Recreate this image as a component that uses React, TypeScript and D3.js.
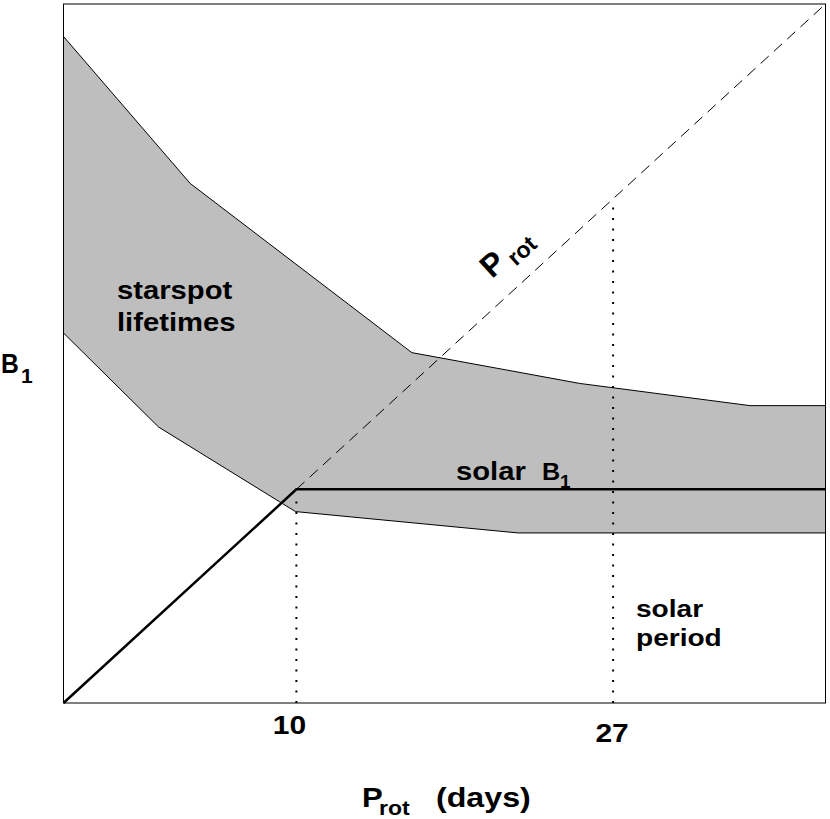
import React from "react";
import * as d3 from "d3";

// Schematic axes (days); x and y share the same units so that B1 = Prot is the diagonal
const xDomain: [number, number] = [-2.5, 38.4];
const yDomain: [number, number] = [-2.5, 38.4];

// Starspot lifetime band
const upperX = [-2.5, 4.3, 16.2, 25.2, 34.35, 38.4];
const upperY = [36.5, 27.9, 18.0, 16.2, 14.9, 14.9];
const lowerX = [-2.5, 2.6, 9.95, 21.9, 38.4];
const lowerY = [19.15, 13.65, 8.7, 7.45, 7.45];

// Solar B1 level and period marks
const solarB1 = 10;
const tickValues = [10, 27];
const tickLabels = ["10", "27"];

const W = 830;
const H = 819;
const FONT = "'Liberation Sans', Arial, Helvetica, sans-serif";

export default function App() {
  const x = d3.scaleLinear().domain(xDomain).range([63.5, 825.5]);
  const y = d3.scaleLinear().domain(yDomain).range([703, 4]);

  const upper = upperX.map((v, i) => [v, upperY[i]] as [number, number]);
  const lower = lowerX.map((v, i) => [v, lowerY[i]] as [number, number]);
  const band: [number, number][] = [...upper, ...lower.slice().reverse()];

  const line = d3
    .line<[number, number]>()
    .x((d) => x(d[0]))
    .y((d) => y(d[1]));

  const solid: [number, number][] = [
    [xDomain[0], yDomain[0]],
    [solarB1, solarB1],
    [xDomain[1], solarB1],
  ];
  const dashed: [number, number][] = [
    [solarB1, solarB1],
    [xDomain[1], yDomain[1]],
  ];

  const angle =
    (-Math.atan2(y(yDomain[0]) - y(yDomain[1]), x(xDomain[1]) - x(xDomain[0])) *
      180) /
    Math.PI;

  const sx = 1.17;

  return (
    <div style={{ position: "fixed", left: 0, top: 0 }}>
      <svg width={W} height={H} style={{ display: "block", background: "#fff" }}>
        <path d={line(band) + "Z"} fill="#bebebe" stroke="none" />
        <path d={line(upper) ?? ""} fill="none" stroke="#000" strokeWidth={1} />
        <path d={line(lower) ?? ""} fill="none" stroke="#000" strokeWidth={1} />

        {/* dotted verticals at 10 and 27 days */}
        <line
          x1={x(tickValues[0])}
          x2={x(tickValues[0])}
          y1={y(yDomain[0])}
          y2={y(solarB1) + 6}
          stroke="#000"
          strokeWidth={2}
          strokeDasharray="2,8.5"
        />
        <line
          x1={x(tickValues[1])}
          x2={x(tickValues[1])}
          y1={y(yDomain[0])}
          y2={y(tickValues[1]) + 2}
          stroke="#000"
          strokeWidth={2}
          strokeDasharray="2,8.5"
        />

        <path d={line(dashed) ?? ""} fill="none" stroke="#000" strokeWidth={1} strokeDasharray="11,7" />
        <path d={line(solid) ?? ""} fill="none" stroke="#000" strokeWidth={2.5} />

        <rect
          x={63.5}
          y={4}
          width={762}
          height={699}
          fill="none"
          stroke="#000"
          strokeWidth={1}
        />

        <g fontFamily={FONT} fontWeight="bold" fill="#000">
          {/* tick labels */}
          {tickValues.map((t, i) => (
            <text
              key={t}
              transform={`translate(${x(t) + (i === 0 ? -7 : -1)},${i === 0 ? 734 : 742}) scale(1.2,1)`}
              fontSize={25}
              textAnchor="middle"
            >
              {tickLabels[i]}
            </text>
          ))}

          {/* x title */}
          <text transform={`translate(362,807) scale(1.15,1)`} fontSize={27}>
            P
          </text>
          <text transform={`translate(379,815) scale(1.15,1)`} fontSize={20}>
            rot
          </text>
          <text transform={`translate(436,807) scale(1.15,1)`} fontSize={28}>
            (days)
          </text>

          {/* y title */}
          <text transform={`translate(1,373) scale(0.88,1)`} fontSize={28}>
            B
          </text>
          <text transform={`translate(21,383)`} fontSize={21}>
            1
          </text>

          {/* starspot lifetimes */}
          <text transform={`translate(117,299) scale(${sx},1)`} fontSize={25}>
            starspot
          </text>
          <text transform={`translate(117,331) scale(${sx},1)`} fontSize={25}>
            lifetimes
          </text>

          {/* solar B1 */}
          <text transform={`translate(456,480) scale(${sx},1)`} fontSize={25}>
            solar
          </text>
          <text transform={`translate(542,480) scale(1.05,1)`} fontSize={24}>
            B
          </text>
          <text transform={`translate(560,488)`} fontSize={19}>
            1
          </text>

          {/* solar period */}
          <text transform={`translate(636,617) scale(${sx},1)`} fontSize={24}>
            solar
          </text>
          <text transform={`translate(636,646) scale(${sx},1)`} fontSize={24}>
            period
          </text>

          {/* P rot along diagonal */}
          <g transform={`translate(${x(20.5)},${y(22.3)}) rotate(${angle})`}>
            <text x={0} y={0} fontSize={32}>
              P
            </text>
            <text x={26} y={7} fontSize={23}>
              rot
            </text>
          </g>
        </g>
      </svg>
    </div>
  );
}
